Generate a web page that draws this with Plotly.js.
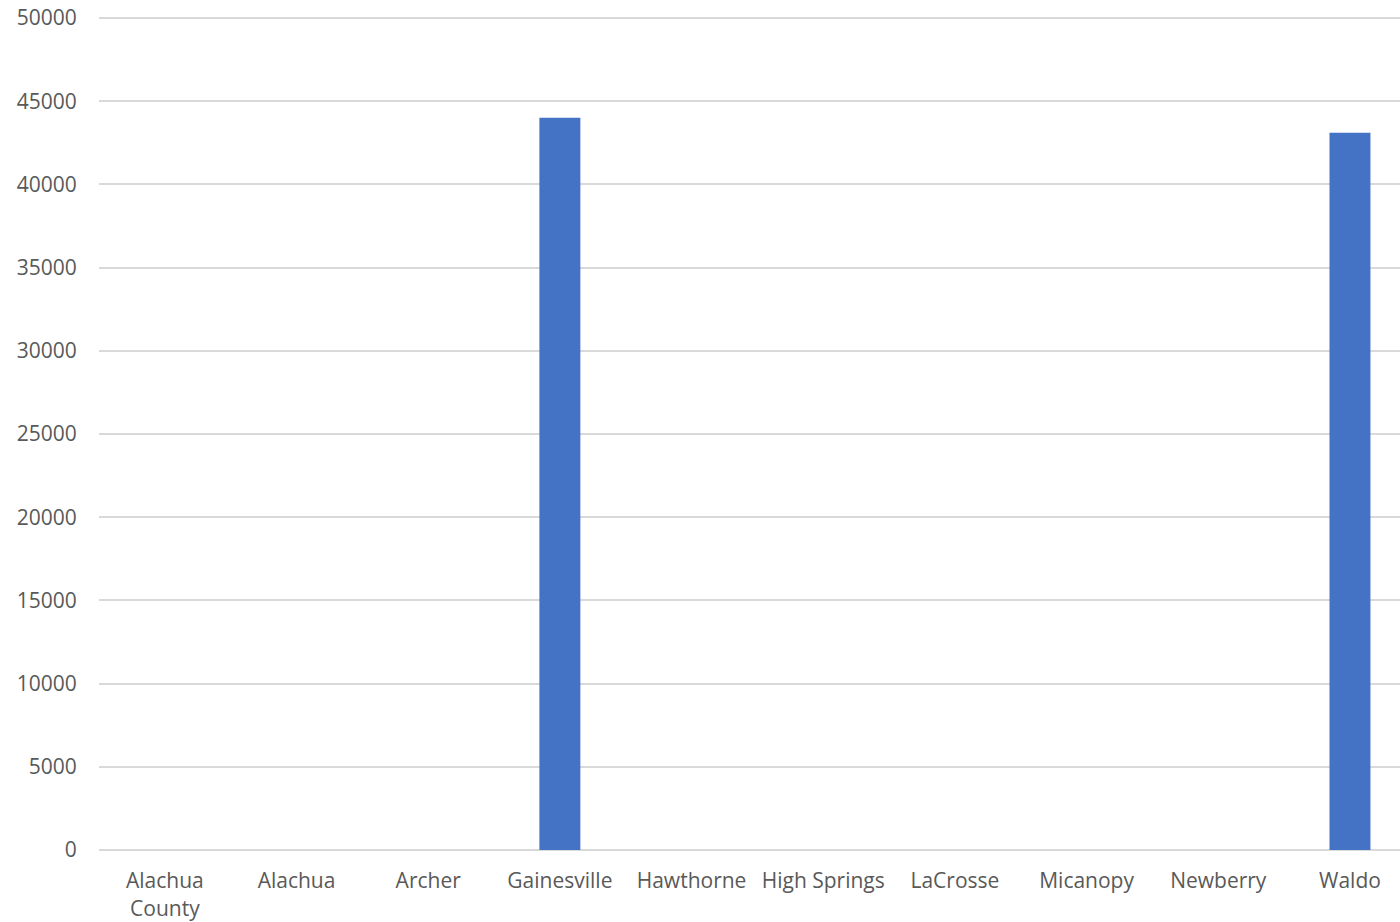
<!DOCTYPE html>
<html>
<head>
<meta charset="utf-8">
<script src="https://cdn.plot.ly/plotly-3.0.1.min.js"></script>
<style>html,body{margin:0;padding:0;background:#fff;}#chart{width:1400px;height:922px;}</style>
</head>
<body>
<div id="chart"></div>
<script>
const categories = ["Alachua<br>County", "Alachua", "Archer", "Gainesville", "Hawthorne", "High Springs", "LaCrosse", "Micanopy", "Newberry", "Waldo"];
const values = [0, 0, 0, 44000, 0, 0, 0, 0, 0, 43100];
const yTicks = [0, 5000, 10000, 15000, 20000, 25000, 30000, 35000, 40000, 45000, 50000];

Plotly.newPlot('chart', [{
  type: 'bar',
  x: categories,
  y: values,
  marker: {color: '#4472C4'},
  hoverinfo: 'x+y'
}], {
  width: 1400, height: 922,
  margin: {l: 99, r: 0, t: 16, b: 72},
  paper_bgcolor: '#fff', plot_bgcolor: '#fff',
  bargap: 0.689,
  showlegend: false,
  font: {family: 'Open Sans, Liberation Sans, sans-serif', size: 21, color: '#595959'},
  xaxis: {
    type: 'category',
    range: [-0.5, 9.38],
    showgrid: false,
    showline: false,
    zeroline: false,
    ticks: 'outside', ticklen: 12, tickcolor: 'rgba(0,0,0,0)',
    tickfont: {size: 21, color: '#595959'}
  },
  yaxis: {
    range: [0, 50120],
    tickvals: yTicks,
    ticktext: yTicks.map(String),
    showgrid: true, gridcolor: '#d9d9d9', gridwidth: 1.5,
    zeroline: true, zerolinecolor: '#d9d9d9', zerolinewidth: 2,
    showline: false,
    ticks: 'outside', ticklen: 17, tickcolor: 'rgba(0,0,0,0)',
    tickfont: {size: 21, color: '#595959'}
  }
}, {displayModeBar: false});
</script>
</body>
</html>
